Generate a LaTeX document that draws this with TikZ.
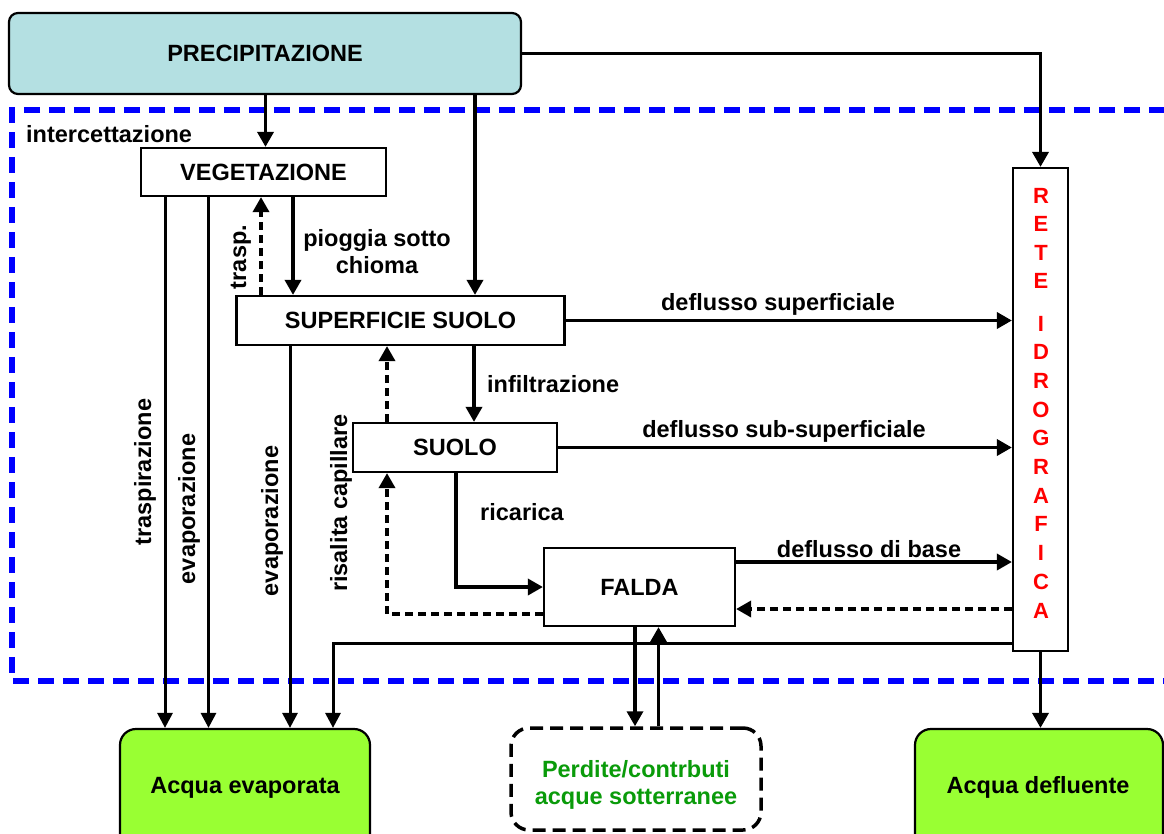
\documentclass[tikz,border=0pt]{standalone}
\usepackage{fontspec}
\setmainfont{Liberation Sans}
\usetikzlibrary{arrows.meta,calc}
\definecolor{precipblue}{RGB}{180,224,226}
\definecolor{boxgreen}{RGB}{153,255,51}
\definecolor{txtgreen}{RGB}{10,155,10}
\definecolor{frameblue}{RGB}{0,0,255}
\definecolor{retered}{RGB}{255,0,0}
\begin{document}
\begin{tikzpicture}[x=1pt,y=-1pt,
  boxn/.style={draw=black, line width=2.2pt, fill=white, inner sep=0pt,
    font=\bfseries\fontsize{23.5}{27}\selectfont},
  lbl/.style={font=\bfseries\fontsize{23.5}{27}\selectfont, inner sep=0pt},
  retel/.style={font=\bfseries\fontsize{22}{26}\selectfont, inner sep=0pt, text=retered},
  arr/.style={line width=3.5pt, -{Triangle[length=15pt,width=16pt]}},
  thinarr/.style={line width=3pt, -{Triangle[length=15pt,width=15pt]}},
  darr/.style={arr, dash pattern=on 8pt off 5pt},
  bluedash/.style={draw=frameblue, line width=5.5pt, dash pattern=on 16pt off 9pt}]
\useasboundingbox (0,0) rectangle (1164,833);
\fill[white] (0,0) rectangle (1164,833);

% system boundary
\draw[bluedash] (1190,110) -- (12,110) -- (12,681) -- (1190,681);

% boxes
\node[boxn, fill=precipblue, rounded corners=9pt, minimum width=512pt, minimum height=81pt] (precip) at (265,53.5) {PRECIPITAZIONE};
\node[boxn, minimum width=245pt, minimum height=48pt] (veg) at (263.5,172) {VEGETAZIONE};
\node[boxn, minimum width=328pt, minimum height=49pt] (sup) at (400.5,320.5) {SUPERFICIE SUOLO};
\node[boxn, minimum width=204pt, minimum height=49pt] (suolo) at (455,447.5) {SUOLO};
\node[boxn, minimum width=191pt, minimum height=78pt] (falda) at (639.5,587) {FALDA};
\node[boxn, minimum width=55pt, minimum height=483pt] (rete) at (1040.5,409.5) {};
\node[boxn, fill=boxgreen, rounded corners=16pt, minimum width=250pt, minimum height=121pt] (evap) at (245,789.5) {};
\node[boxn, fill=boxgreen, rounded corners=16pt, minimum width=248pt, minimum height=121pt] (defl) at (1039,789.5) {};
\node[boxn, line width=3.5pt, dash pattern=on 13pt off 7pt, rounded corners=18pt, minimum width=250pt, minimum height=102pt] (perd) at (636,779) {};

% box texts
\foreach \ch/\yy [count=\i] in {R/203,E/231.5,T/260,E/288,I/331,D/359.7,R/388.4,O/417.1,G/445.8,R/474.5,A/503.2,F/531.9,I/560.6,C/589.3,A/618}
  {\node[retel, anchor=base] (rl\i) at (1041,\yy) {\ch};}
\node[lbl, anchor=base] (tevap) at (245,793) {Acqua evaporata};
\node[lbl, anchor=base] (tdefl) at (1038,793) {Acqua defluente};
\node[lbl, align=center, text=txtgreen] (tperd) at (636,784.5) {Perdite/contrbuti\\acque sotterranee};

% x / y references
\coordinate (xveg) at (265.5,0);
\coordinate (xps) at (475,0);
\coordinate (xpio) at (293,0);
\coordinate (xtr) at (261,0);
\coordinate (xe1) at (165,0);
\coordinate (xe2) at (208.5,0);
\coordinate (xe3) at (290,0);
\coordinate (xe4) at (333,0);
\coordinate (xinf) at (474,0);
\coordinate (xris) at (387,0);
\coordinate (xric) at (456,0);
\coordinate (xpd) at (635,0);
\coordinate (xpu) at (658.5,0);
\coordinate (yb) at (0,562);
\coordinate (yrf) at (0,609);
\coordinate (ycap) at (0,614);
\coordinate (yev) at (0,643);

% connectors
\draw[arr] (precip.south -| xveg) -- (veg.north -| xveg);
\draw[arr] (precip.south -| xps) -- (sup.north -| xps);
\draw[arr] (precip.east) -| (rete.north);
\draw[arr] (veg.south -| xpio) -- (sup.north -| xpio);
\draw[darr] (sup.north -| xtr) -- (veg.south -| xtr);
\draw[thinarr] (veg.south -| xe1) -- (evap.north -| xe1);
\draw[thinarr] (veg.south -| xe2) -- (evap.north -| xe2);
\draw[thinarr] (sup.south -| xe3) -- (evap.north -| xe3);
\draw[thinarr] (rete.west |- yev) -| (evap.north -| xe4);
\draw[arr] (sup.south -| xinf) -- (suolo.north -| xinf);
\draw[darr] (suolo.north -| xris) -- (sup.south -| xris);
\draw[arr] (suolo.south -| xric) |- (falda.west);
\draw[darr] (falda.west |- ycap) -| (suolo.south -| xris);
\draw[arr] (sup.east) -- (sup.east -| rete.west);
\draw[arr] (suolo.east) -- (suolo.east -| rete.west);
\draw[arr] (falda.east |- yb) -- (rete.west |- yb);
\draw[darr] (rete.west |- yrf) -- (falda.east |- yrf);
\draw[arr] (falda.south -| xpd) -- (perd.north -| xpd);
\draw[arr] (perd.north -| xpu) -- (falda.south -| xpu);
\draw[arr] (rete.south) -- (defl.north -| rete.south);

% labels
\node[lbl, anchor=base west] (lint) at (26,142) {intercettazione};
\node[lbl, align=center] (lpio) at (377,252) {pioggia sotto\\chioma};
\node[lbl, rotate=90] (ltrasp) at (241,257) {trasp.};
\node[lbl, rotate=90] (ltr) at (145,472) {traspirazione};
\node[lbl, rotate=90] (lev1) at (189,509) {evaporazione};
\node[lbl, rotate=90] (lev2) at (272,521) {evaporazione};
\node[lbl, rotate=90] (lris) at (341,503) {risalita capillare};
\node[lbl, anchor=base west] (linf) at (487,392) {infiltrazione};
\node[lbl, anchor=base] (lric) at (522,520) {ricarica};
\node[lbl, anchor=base] (ldsup) at (778,310) {deflusso superficiale};
\node[lbl, anchor=base] (ldsub) at (784,437) {deflusso sub-superficiale};
\node[lbl, anchor=base] (ldb) at (869,557) {deflusso di base};
\end{tikzpicture}
\end{document}
